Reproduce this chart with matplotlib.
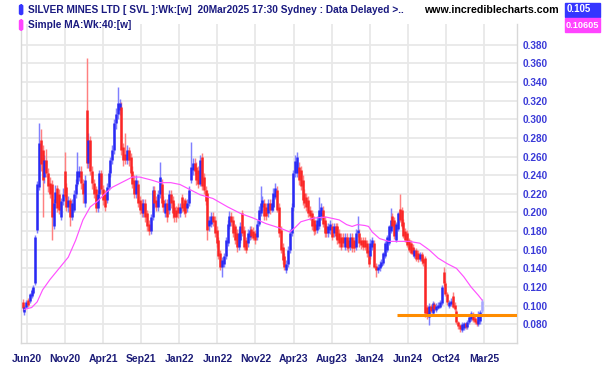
import matplotlib
matplotlib.use("Agg")
import matplotlib.pyplot as plt
from matplotlib.patches import FancyBboxPatch, Rectangle

# ---------------- data (weekly OHLC) ----------------
opens = [
    .104, .093, .099, .106, .105, .110, .114, .124, .181, .227,
    .278, .267, .238, .256, .242, .232, .231, .186, .210, .226,
    .220, .195, .212, .245, .227, .206, .213, .195, .203, .220,
    .231, .238, .245, .232, .210, .310, .253, .278, .245, .232,
    .225, .205, .220, .242, .225, .220, .213, .227, .242, .256,
    .267, .296, .306, .310, .313, .270, .263, .256, .267, .260,
    .245, .235, .220, .231, .213, .210, .199, .210, .199, .188,
    .180, .195, .224, .213, .206, .220, .231, .213, .199, .210,
    .203, .220, .213, .206, .203, .206, .199, .217, .210, .213,
    .205, .210, .235, .246, .253, .249, .246, .231, .260, .238,
    .224, .221, .185, .188, .196, .192, .181, .170, .156, .142,
    .145, .153, .167, .185, .196, .192, .185, .178, .163, .170,
    .199, .181, .170, .167, .174, .182, .180, .178, .174, .188,
    .199, .206, .210, .206, .199, .210, .203, .206, .217, .224,
    .206, .181, .163, .153, .138, .145, .160, .178, .206, .242,
    .242, .249, .246, .235, .221, .217, .213, .203, .199, .192,
    .188, .181, .185, .196, .203, .192, .185, .178, .181, .185,
    .178, .185, .185, .178, .174, .174, .163, .174, .170, .163,
    .174, .170, .163, .178, .178, .170, .170, .170, .167, .160,
    .153, .163, .167, .143, .138, .140, .143, .146, .153, .160,
    .167, .180, .196, .192, .170, .182, .204, .203, .190, .180,
    .178, .170, .167, .163, .153, .160, .157, .150, .155, .150,
    .151, .099, .088, .100, .092, .102, .095, .098, .099, .103,
    .136, .124, .113, .100, .102, .110, .101, .094, .082, .079,
    .074, .076, .081, .077, .082, .086, .090, .087, .084, .080,
    .084, .094,
]
highs = [
    .107, .101, .106, .108, .114, .119, .122, .176, .234, .296,
    .290, .272, .262, .268, .248, .238, .235, .214, .230, .230,
    .225, .215, .226, .265, .232, .218, .216, .214, .224, .236,
    .265, .250, .250, .236, .240, .366, .285, .282, .250, .236,
    .228, .224, .246, .246, .230, .224, .232, .246, .260, .272,
    .300, .312, .335, .322, .318, .275, .285, .272, .270, .264,
    .250, .240, .240, .235, .218, .214, .214, .214, .203, .192,
    .198, .228, .228, .218, .224, .254, .236, .218, .214, .214,
    .224, .224, .218, .210, .207, .210, .210, .220, .214, .216,
    .214, .228, .276, .258, .258, .254, .250, .262, .264, .242,
    .228, .224, .196, .200, .200, .196, .185, .174, .160, .152,
    .157, .174, .192, .202, .200, .196, .188, .182, .182, .190,
    .203, .185, .174, .182, .185, .186, .184, .181, .192, .207,
    .228, .218, .214, .210, .214, .214, .214, .226, .232, .228,
    .210, .185, .167, .157, .149, .164, .182, .210, .246, .262,
    .265, .254, .250, .240, .225, .221, .218, .207, .203, .196,
    .192, .196, .217, .210, .207, .196, .189, .189, .192, .189,
    .189, .189, .189, .182, .178, .178, .178, .178, .174, .178,
    .178, .174, .182, .196, .182, .174, .174, .174, .170, .164,
    .172, .174, .170, .146, .145, .148, .150, .158, .169, .176,
    .187, .205, .199, .195, .190, .201, .220, .206, .193, .183,
    .181, .173, .170, .166, .162, .162, .160, .158, .158, .153,
    .153, .101, .103, .102, .105, .104, .103, .104, .106, .122,
    .141, .126, .115, .106, .108, .115, .104, .096, .084, .080,
    .082, .083, .082, .085, .090, .094, .093, .089, .086, .094,
    .095, .107,
]
lows = [
    .094, .090, .097, .099, .103, .108, .112, .122, .178, .224,
    .245, .195, .232, .238, .222, .215, .170, .182, .205, .200,
    .198, .192, .208, .215, .202, .200, .186, .192, .200, .216,
    .228, .234, .225, .210, .206, .248, .248, .240, .225, .215,
    .200, .200, .216, .220, .208, .202, .210, .224, .238, .252,
    .263, .290, .300, .305, .262, .250, .252, .252, .250, .238,
    .226, .215, .216, .206, .198, .195, .195, .190, .180, .176,
    .177, .192, .205, .202, .202, .216, .206, .200, .195, .190,
    .198, .205, .194, .190, .190, .194, .195, .200, .198, .195,
    .200, .207, .232, .240, .240, .230, .226, .228, .224, .220,
    .208, .170, .180, .184, .186, .174, .163, .150, .138, .131,
    .141, .150, .164, .182, .186, .174, .166, .158, .160, .167,
    .175, .160, .156, .163, .170, .171, .170, .166, .170, .185,
    .196, .202, .192, .192, .195, .198, .200, .202, .214, .200,
    .174, .156, .145, .138, .135, .142, .157, .175, .202, .238,
    .238, .230, .224, .208, .205, .202, .195, .192, .181, .176,
    .177, .178, .182, .192, .184, .174, .174, .174, .177, .170,
    .174, .171, .166, .163, .160, .163, .160, .160, .158, .160,
    .158, .158, .160, .174, .163, .161, .160, .160, .152, .141,
    .150, .160, .140, .131, .135, .137, .141, .144, .151, .158,
    .165, .178, .183, .172, .168, .180, .190, .183, .173, .168,
    .163, .158, .155, .153, .151, .148, .147, .148, .145, .143,
    .088, .086, .079, .092, .090, .094, .093, .096, .097, .101,
    .121, .110, .101, .098, .100, .097, .094, .080, .075, .072,
    .072, .074, .075, .075, .080, .084, .083, .080, .078, .078,
    .080, .092,
]
closes = [
    .097, .099, .104, .101, .112, .117, .120, .174, .231, .274,
    .252, .235, .256, .242, .228, .220, .195, .210, .222, .205,
    .203, .212, .220, .218, .206, .213, .195, .210, .220, .231,
    .245, .245, .232, .220, .235, .253, .278, .245, .232, .220,
    .205, .220, .242, .225, .213, .206, .227, .242, .256, .267,
    .296, .306, .317, .317, .267, .256, .256, .267, .256, .242,
    .231, .220, .235, .210, .203, .199, .210, .195, .185, .180,
    .195, .224, .210, .206, .220, .238, .210, .206, .210, .195,
    .220, .210, .199, .195, .195, .199, .206, .205, .202, .199,
    .210, .224, .249, .253, .245, .235, .231, .256, .228, .224,
    .212, .181, .192, .196, .190, .178, .167, .153, .142, .149,
    .153, .170, .188, .196, .190, .178, .170, .163, .178, .185,
    .178, .163, .160, .178, .181, .175, .173, .170, .188, .203,
    .210, .213, .196, .196, .210, .203, .210, .221, .226, .203,
    .178, .160, .149, .142, .145, .160, .178, .206, .242, .255,
    .260, .235, .228, .213, .210, .206, .199, .196, .185, .180,
    .181, .192, .203, .206, .188, .178, .178, .185, .188, .174,
    .185, .175, .170, .167, .163, .167, .174, .163, .162, .174,
    .162, .162, .178, .181, .167, .165, .163, .163, .156, .145,
    .167, .170, .142, .138, .142, .145, .147, .156, .167, .174,
    .185, .192, .185, .175, .188, .199, .192, .185, .175, .170,
    .165, .160, .157, .155, .160, .150, .150, .155, .148, .146,
    .092, .090, .100, .094, .103, .096, .100, .101, .104, .120,
    .124, .112, .104, .104, .105, .099, .096, .082, .078, .075,
    .080, .081, .077, .083, .088, .092, .085, .082, .080, .091,
    .093, .105,
]

# 40-week simple moving average (week index, value)
ma_weeks = [1, 5, 8, 11, 15, 20, 25, 29, 33, 37, 41, 46, 49, 55, 60, 64, 70,
            75, 81, 86, 91, 97, 104, 112, 119, 126, 133, 141, 146, 149, 152,
            159, 166, 173, 177, 180, 183, 187, 189, 191, 195, 200, 206, 211,
            217, 222, 227, 232, 237, 241, 245, 249, 251]
ma_values = [.096, .098, .104, .117, .128, .140, .152, .170, .192, .206, .212,
             .222, .227, .233, .238, .238, .235, .232, .232, .230, .225, .219,
             .215, .206, .199, .194, .188, .183, .179, .184, .190, .194, .195,
             .192, .187, .185, .187, .186, .185, .179, .172, .169, .169, .169,
             .167, .160, .151, .145, .140, .131, .120, .111, .106]

x_tick_labels = ["Jun20", "Nov20", "Apr21", "Sep21", "Jan22", "Jun22", "Nov22",
                 "Apr23", "Aug23", "Jan24", "Jun24", "Oct24", "Mar25"]
y_ticks = [0.08, 0.10, 0.12, 0.14, 0.16, 0.18, 0.20, 0.22, 0.24, 0.26, 0.28,
           0.30, 0.32, 0.34, 0.36, 0.38]
support_level = 0.090
support_start_week = 204.5
last_price = "0.105"
last_ma = "0.10605"
title1 = "SILVER MINES LTD [ SVL ]:Wk:[w]  20Mar2025 17:30 Sydney : Data Delayed >.."
title2 = "Simple MA:Wk:40:[w]"
site = "www.incrediblecharts.com"

# ---------------- layout ----------------
W, H = 602, 365
fig = plt.figure(figsize=(W / 100, H / 100), dpi=100)
fig.patch.set_facecolor("white")

ax_l, ax_r, ax_t, ax_b = 21, 517, 24, 343
ax = fig.add_axes([ax_l / W, (H - ax_b) / H, (ax_r - ax_l) / W, (ax_b - ax_t) / H])

bar0_px, bar_dx = 22.5, 1.831
ax.set_xlim((ax_l - bar0_px) / bar_dx, (ax_r - bar0_px) / bar_dx)
px_per_unit = 18.64 / 0.02
ax.set_ylim(0.38 - (ax_b - 44.7) / px_per_unit, 0.38 + (44.7 - ax_t) / px_per_unit)

FONT = "Liberation Sans"

# grid / ticks
tick_pos = [(27 + 38.08 * k - bar0_px) / bar_dx for k in range(len(x_tick_labels))]
ax.set_xticks(tick_pos)
ax.set_xticklabels(x_tick_labels, fontsize=7.5, fontweight="bold",
                   color="#1c1c78", family=FONT)
ax.yaxis.tick_right()
ax.set_yticks(y_ticks)
ax.set_yticklabels([f"{v:.3f}" for v in y_ticks], fontsize=7.2,
                   fontweight="bold", color="#3a3ad8", family=FONT)
ax.tick_params(axis="x", length=0, pad=8)
ax.tick_params(axis="y", length=0, pad=4)
ax.grid(True, color="#e8e8e8", linewidth=1.3, zorder=0)
ax.set_axisbelow(True)
ax.spines["top"].set_visible(False)
for s in ["left", "right", "bottom"]:
    ax.spines[s].set_color("#d8d8d8")
    ax.spines[s].set_linewidth(1.0)

# ---------------- candles ----------------
n = len(closes)
idx = list(range(n))
wick_cols, body_cols = [], []
for i in idx:
    up = closes[i] >= opens[i]
    if i == n - 1:
        wick_cols.append("#b4b4ff")
        body_cols.append("#a8a8ff")
    elif up:
        wick_cols.append("#8080ff")
        body_cols.append("#2a2af4")
    else:
        wick_cols.append("#ff8080")
        body_cols.append("#fa2626")
lo = [min(lows[i], opens[i], closes[i]) for i in idx]
hi = [max(highs[i], opens[i], closes[i]) for i in idx]
ax.vlines(idx, lo, hi, colors=wick_cols, linewidth=1.05, zorder=2)
ax.vlines(idx, opens, closes, colors=body_cols, linewidth=1.8, zorder=3)

# moving average
ax.plot(ma_weeks, ma_values, color="#ff50ff", linewidth=0.85, zorder=4)

# support line
ax.hlines(support_level, support_start_week, ax.get_xlim()[1],
          color="#ff8c00", linewidth=2.2, zorder=5)

# ---------------- header ----------------
def fx(x):
    return x / W

def fy(y):
    return 1 - y / H

fig.patches.append(FancyBboxPatch((fx(19.5), fy(14.5)), 3.2 / W, 9.5 / H,
                                  boxstyle="round,pad=0,rounding_size=0.003",
                                  transform=fig.transFigure, color="#3535ff"))
fig.patches.append(FancyBboxPatch((fx(19.5), fy(30)), 3.2 / W, 10 / H,
                                  boxstyle="round,pad=0,rounding_size=0.003",
                                  transform=fig.transFigure, color="#ff44ff"))
fig.text(fx(28), fy(10), title1, fontsize=7.3, fontweight="bold",
         color="#1a1a80", family=FONT, va="center", ha="left")
fig.text(fx(28), fy(25), title2, fontsize=7.3, fontweight="bold",
         color="#1a1a80", family=FONT, va="center", ha="left")
fig.text(fx(424), fy(10), site, fontsize=7.7, fontweight="bold",
         color="black", family=FONT, va="center", ha="left")

fig.patches.append(Rectangle((fx(565), fy(16.5)), 35 / W, 14 / H,
                             transform=fig.transFigure, color="#3535ff"))
fig.patches.append(Rectangle((fx(565), fy(32)), 35 / W, 14.5 / H,
                             transform=fig.transFigure, color="#ff44ff"))
fig.text(fx(566.5), fy(9.5), last_price, fontsize=7.0, fontweight="bold",
         color="white", family=FONT, va="center", ha="left")
fig.text(fx(566), fy(25), last_ma, fontsize=6.6, fontweight="bold",
         color="white", family=FONT, va="center", ha="left")

fig.savefig("out.png", dpi=100, facecolor="white")
